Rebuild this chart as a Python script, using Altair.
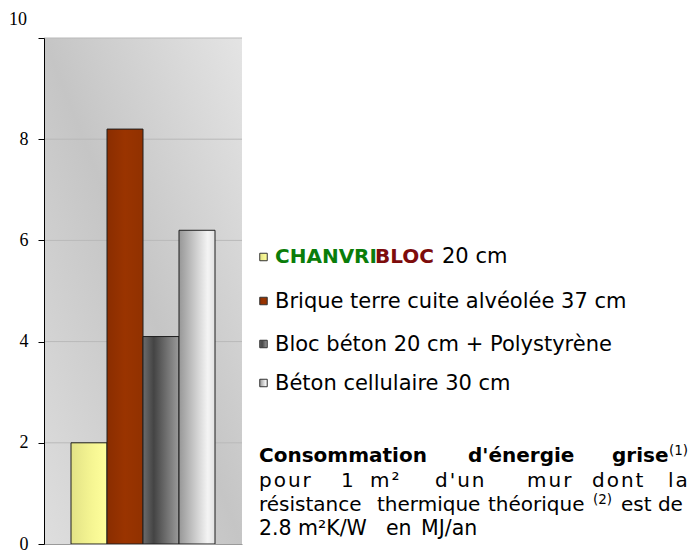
import altair as alt
import pandas as pd

# ---------------- data ----------------
categories = ["CHANVRIBLOC 20 cm", "Brique terre cuite alvéolée 37 cm",
              "Bloc béton 20 cm + Polystyrène", "Béton cellulaire 30 cm"]
values = [2.0, 8.2, 4.1, 6.2]
y_ticks = [0, 2, 4, 6, 8, 10]
grid_values = [2, 4, 6, 8, 10]
top_tick_label = "10"

brand_part1 = "CHANVRI"
brand_part2 = "BLOC"
brand_rest = "20 cm"

para_line1 = ["Consommation", "d'énergie", "grise"]
para_line2 = ["pour", "1", "m²", "d'un", "mur", "dont", "la"]
para_line3 = ["résistance", "thermique", "théorique", "est de"]
para_line4 = ["2.8", "m²K/W", "en", "MJ/an"]
sup1, sup2 = "(1)", "(2)"

# ---------------- layout ----------------
W, H = 198, 506
PX0, PY0 = 44, 38  # page position of plot origin

def grad(stops, x1=0, y1=0, x2=1, y2=0):
    return alt.LinearGradient(
        gradient="linear",
        stops=[alt.GradientStop(color=c, offset=o) for o, c in stops],
        x1=x1, y1=y1, x2=x2, y2=y2)

bar_fills = [
    grad([(0, "#e2e286"), (0.6, "#f6f693"), (1, "#ffff9c")]),
    grad([(0, "#8a2d00"), (0.5, "#9a3400"), (1, "#913100")]),
    grad([(0, "#6c6c6c"), (0.3, "#444444"), (1, "#9a9a9a")]),
    grad([(0, "#979797"), (0.8, "#f4f4f4"), (1, "#e2e2e2")]),
]
legend_fills = bar_fills

yscale = alt.Scale(domain=[0, 10], nice=False, zero=True)
xscale = alt.Scale(domain=categories, paddingInner=0, paddingOuter=0.75)

yaxis = alt.Axis(values=y_ticks, grid=False, domainColor="black", tickColor="black",
                 tickSize=6, labelFont="Liberation Serif", labelFontSize=18,
                 labelColor="black", labelPadding=10, title=None, zindex=1,
                 labelExpr="datum.value == 10 ? '' : datum.label")
xaxis = alt.Axis(labels=False, ticks=False, title=None, domainColor="#9a9a9a", zindex=1)

one = pd.DataFrame({"a": [0]})

background = alt.Chart(one).mark_rect(
    fill=grad([(0, "#dedede"), (0.5, "#c5c5c5"), (1, "#e4e4e4")], x1=0, y1=1, x2=1, y2=0)
).encode(x=alt.value(0), x2=alt.value(W), y=alt.value(0), y2=alt.value(H))

grid = alt.Chart(pd.DataFrame({"v": grid_values})).mark_rule(
    color="#b9b9b9", strokeWidth=1
).encode(y=alt.Y("v:Q", scale=yscale, axis=yaxis))

df = pd.DataFrame({"cat": categories, "val": values})
bars = []
for i, c in enumerate(categories):
    b = alt.Chart(df).transform_filter(alt.datum.cat == c).mark_bar(
        fill=bar_fills[i], stroke="#1e1e1e", strokeWidth=1
    ).encode(
        x=alt.X("cat:N", scale=xscale, axis=xaxis, sort=categories),
        y=alt.Y("val:Q", scale=yscale, axis=yaxis),
    )
    bars.append(b)


def txt(text, X, Y, size=20, weight="normal", color="#000000", font="DejaVu Sans", align="left"):
    return alt.Chart(pd.DataFrame({"t": [text]})).mark_text(
        align=align, baseline="alphabetic", font=font,
        fontSize=size, fontWeight=weight, color=color
    ).encode(text="t:N", x=alt.value(X - PX0), y=alt.value(Y - PY0))


def square(fill, X, Y):
    return alt.Chart(one).mark_square(
        size=56, fill=fill, stroke="#333333", strokeWidth=1, opacity=1
    ).encode(x=alt.value(X - PX0), y=alt.value(Y - PY0))


def spaced(word):
    return "\u200a".join(word)


texts = []
# shifted top tick label
texts.append(txt(top_tick_label, 27, 25, size=18, font="Liberation Serif", align="right"))
# legend
sq_y = [257, 301, 344, 383]
txt_y = [263, 308, 351, 390]
for i in range(4):
    texts.append(square(legend_fills[i], 263.5, sq_y[i]))
texts.append(txt(brand_part1, 275, txt_y[0], size=20, weight="bold", color="#0a7d0a"))
texts.append(txt(brand_part2, 375, txt_y[0], size=20, weight="bold", color="#7d0c0c"))
texts.append(txt(brand_rest, 442, txt_y[0], size=21))
for i in range(1, 4):
    texts.append(txt(categories[i], 275, txt_y[i], size=21))

# paragraph
l1x = [259, 468, 612]
for w, x in zip(para_line1, l1x):
    texts.append(txt(w, x, 462, weight="bold"))
texts.append(txt(sup1, 669, 455, size=13.5))
l2x = [259, 341, 370, 435, 527, 592, 668]
for w, x in zip(para_line2, l2x):
    texts.append(txt(spaced(w), x, 487))
l3x = [259, 377, 488, 621]
for w, x in zip(para_line3, l3x):
    texts.append(txt(w, x, 511))
texts.append(txt(sup2, 593, 504, size=13.5))
l4x = [259, 298, 386, 421]
for w, x in zip(para_line4, l4x):
    texts.append(txt(w, x, 535, size=20.5))

chart = alt.layer(background, grid, *bars, *texts).properties(
    width=W, height=H,
    padding={"left": 36, "top": 30, "right": 448, "bottom": 6},
    autosize="none",
    background="white",
).configure_view(stroke=None)

chart.save("out.html", embed_options={"renderer": "svg", "actions": False})
